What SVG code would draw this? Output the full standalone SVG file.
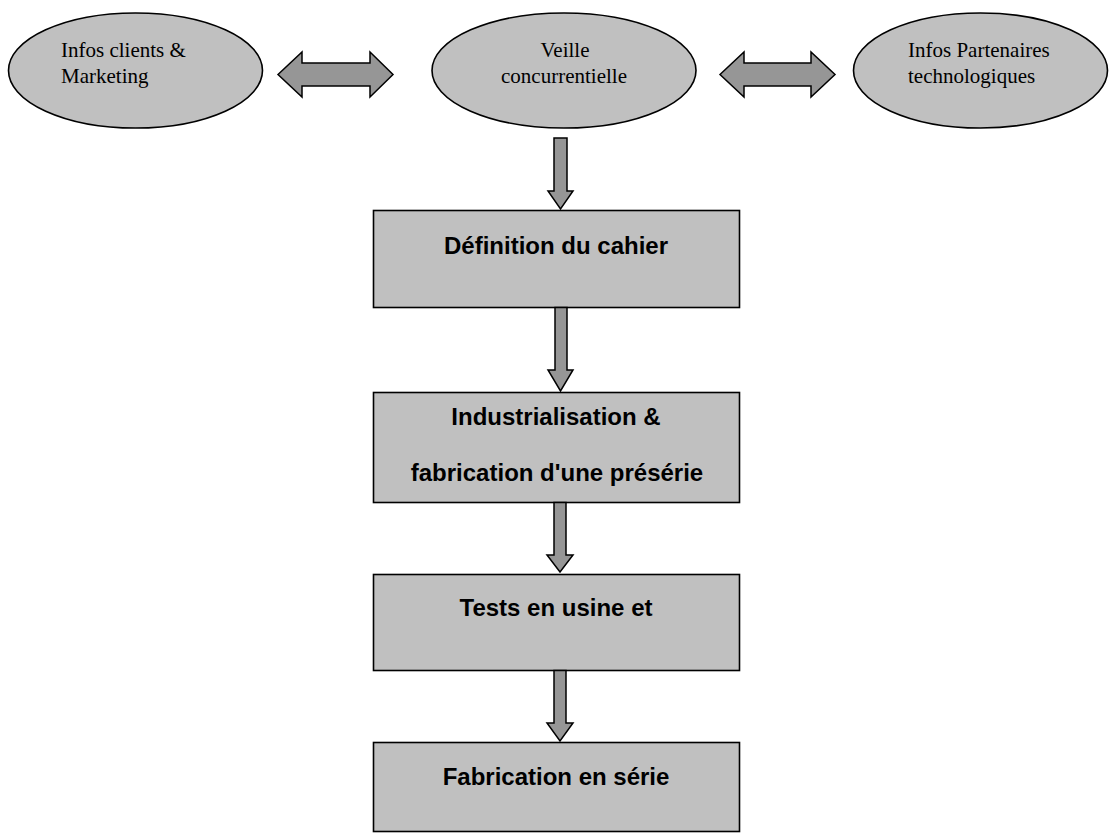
<svg xmlns="http://www.w3.org/2000/svg" width="1110" height="833" viewBox="0 0 1110 833">
<style>
.node{fill:#c0c0c0;stroke:#000;stroke-width:1.6}
.arr{fill:#969696;stroke:#000;stroke-width:1.5;stroke-linejoin:miter}
.serif{font-family:"Liberation Serif","Times New Roman",serif;font-size:21px;fill:#000}
.bold{font-family:"Liberation Sans",Arial,sans-serif;font-weight:bold;font-size:24px;fill:#000;text-anchor:middle}
</style>
<rect width="1110" height="833" fill="#fff"/>
<g id="n-clients">
<ellipse class="node" cx="135.5" cy="70.5" rx="127" ry="57.5"/>
<text class="serif" x="61" y="57">Infos clients &amp;</text>
<text class="serif" x="61" y="83">Marketing</text>
</g>
<g id="n-veille">
<ellipse class="node" cx="564" cy="70.5" rx="132" ry="57.5"/>
<text class="serif" x="565" y="57" text-anchor="middle">Veille</text>
<text class="serif" x="564" y="83" text-anchor="middle">concurrentielle</text>
</g>
<g id="n-partenaires">
<ellipse class="node" cx="980.5" cy="70.5" rx="127" ry="57.5"/>
<text class="serif" x="908" y="57">Infos Partenaires</text>
<text class="serif" x="908" y="83">technologiques</text>
</g>
<g id="n-definition">
<rect class="node" x="373.5" y="210.5" width="366" height="97"/>
<text class="bold" x="556" y="254">Définition du cahier</text>
</g>
<g id="n-industrialisation">
<rect class="node" x="373.5" y="392.5" width="366" height="110"/>
<text class="bold" x="556" y="425">Industrialisation &amp;</text>
<text class="bold" x="557" y="481">fabrication d'une présérie</text>
</g>
<g id="n-tests">
<rect class="node" x="373.5" y="574.5" width="366" height="96"/>
<text class="bold" x="556" y="616">Tests en usine et</text>
</g>
<g id="n-serie">
<rect class="node" x="373.5" y="742.5" width="366" height="89"/>
<text class="bold" x="556" y="785">Fabrication en série</text>
</g>
<g id="connectors">
<path class="arr" d="M278,74.5 L302,52 L302,63 L370,63 L370,52 L393,74.5 L370,97 L370,86 L302,86 L302,97 Z"/>
<path class="arr" d="M720,74.5 L744,52 L744,63 L811,63 L811,52 L835,74.5 L811,97 L811,86 L744,86 L744,97 Z"/>
<path class="arr" d="M554,138 L567,138 L567,191 L573,191 L560.5,209 L548,191 L554,191 Z"/>
<path class="arr" d="M555,307.5 L567,307.5 L567,370 L573,370 L560.5,391 L548,370 L555,370 Z"/>
<path class="arr" d="M554,502.5 L566,502.5 L566,555 L573,555 L560,572 L547,555 L554,555 Z"/>
<path class="arr" d="M554,670.5 L566,670.5 L566,723 L573,723 L560,741 L547,723 L554,723 Z"/>
</g>
</svg>
